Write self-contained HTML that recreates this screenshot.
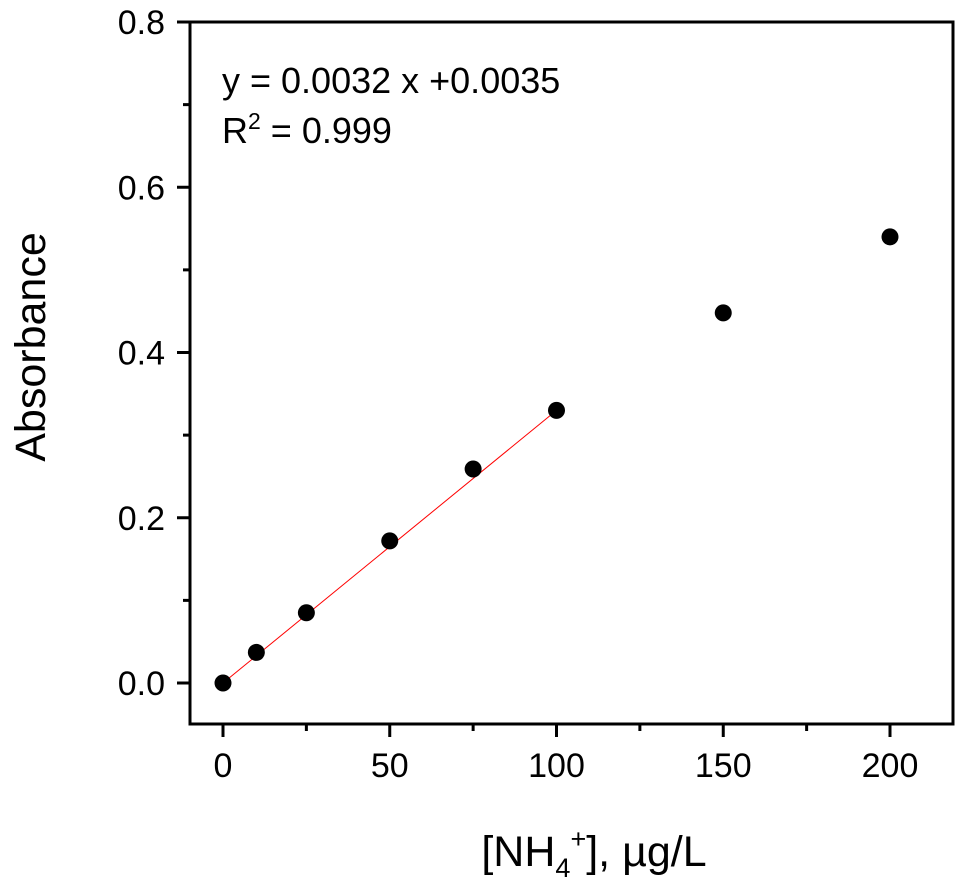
<!DOCTYPE html>
<html><head><meta charset="utf-8"><style>
body{margin:0;background:#fff}
svg text{font-family:"Liberation Sans",Arial,sans-serif;fill:#000}
</style></head><body>
<svg id="chart" width="969" height="884" xmlns="http://www.w3.org/2000/svg">
<rect x="190" y="22" width="763" height="702" fill="none" stroke="#000" stroke-width="3"/>
<g id="ticks"></g>
<g id="marks"></g>
<text x="222" y="93" font-size="36">y = 0.0032 x +0.0035</text>
<text x="222" y="143" font-size="36">R<tspan font-size="23" dy="-14">2</tspan><tspan dy="14"> = 0.999</tspan></text>
<text transform="translate(45,347) rotate(-90)" text-anchor="middle" font-size="43">Absorbance</text>
<text x="594" y="866" text-anchor="middle" font-size="43">[NH<tspan font-size="27" dy="11">4</tspan><tspan font-size="27" dy="-29">+</tspan><tspan dy="18">], µg/L</tspan></text>
</svg>
<script>
const xValues=[0,10,25,50,75,100,150,200];
const yValues=[0,0.037,0.085,0.172,0.259,0.33,0.448,0.54];
const xTicks=[0,50,100,150,200];
const yTicks=[0,0.2,0.4,0.6,0.8];
const yTickLabels=["0.0","0.2","0.4","0.6","0.8"];
const fitSlope=0.0033, fitIntercept=0, fitRange=[0,100];
const NS="http://www.w3.org/2000/svg";
const X=v=>223+v*(890-223)/200;
const Y=v=>683-v*(683-22)/0.8;
function mk(t,a,p){const e=document.createElementNS(NS,t);for(const k in a)e.setAttribute(k,a[k]);p.appendChild(e);return e;}
const tg=document.getElementById('ticks'),mg=document.getElementById('marks');
xTicks.forEach((v,i)=>{
 const l=mk('line',{x1:X(v),x2:X(v),y1:724,y2:737,stroke:'#000','stroke-width':3},tg);
 
 
 const t=mk('text',{x:X(v),y:777,'text-anchor':'middle','font-size':34},tg);t.textContent=String(v);
 
 
 if(i<xTicks.length-1){const m=(v+xTicks[i+1])/2;
  const n=mk('line',{x1:X(m),x2:X(m),y1:724,y2:731,stroke:'#000','stroke-width':3},tg);
  
  }
});
yTicks.forEach((v,i)=>{
 const l=mk('line',{x1:177,x2:190,y1:Y(v),y2:Y(v),stroke:'#000','stroke-width':3},tg);
 
 
 const t=mk('text',{x:165,y:Y(v)+12,'text-anchor':'end','font-size':34},tg);t.textContent=yTickLabels[i];
 
 
 if(i<yTicks.length-1){const m=(v+yTicks[i+1])/2;
  const n=mk('line',{x1:183,x2:190,y1:Y(m),y2:Y(m),stroke:'#000','stroke-width':3},tg);
  
  }
});
const fl=mk('line',{x1:X(fitRange[0]),y1:Y(fitSlope*fitRange[0]+fitIntercept),x2:X(fitRange[1]),y2:Y(fitSlope*fitRange[1]+fitIntercept),stroke:'#ff0000','stroke-width':1},mg);


xValues.forEach((v,i)=>{
 const c=mk('circle',{cx:X(v),cy:Y(yValues[i]),r:8.5,fill:'#000'},mg);
 
 
});
</script>
</body></html>
